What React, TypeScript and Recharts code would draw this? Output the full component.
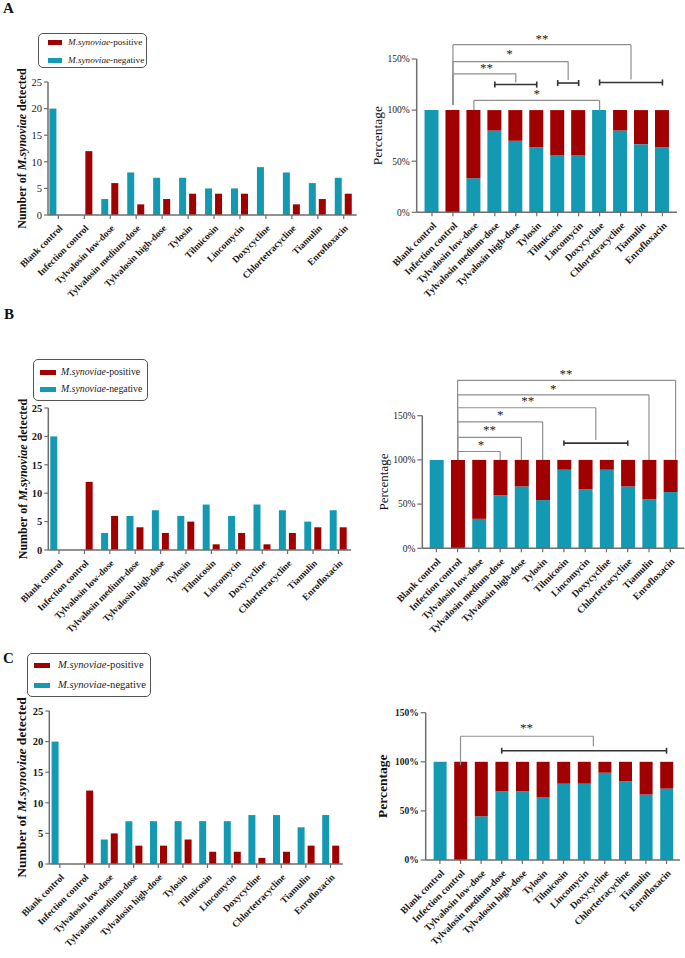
import React from 'react';
import { BarChart, Bar, XAxis, YAxis, ReferenceLine, ReferenceDot, Legend } from 'recharts';

const FONT = "'Liberation Serif', 'Times New Roman', Times, serif";
const TEAL = '#1499b3';
const RED = '#a00000';
const AXIS = '#6e6e6e';
const BRACKET = '#8f8f8f';
const CAP = '#333333';
const INK = '#1a1a1a';

// ---------- data ----------
const categories = [
  'Blank control',
  'Infection control',
  'Tylvalosin low-dose',
  'Tylvalosin medium-dose',
  'Tylvalosin high-dose',
  'Tylosin',
  'Tilmicosin',
  'Lincomycin',
  'Doxycycline',
  'Chlortetracycline',
  'Tiamulin',
  'Enrofloxacin',
];
const categoryIndex = categories.map((_, i) => i);

// number of birds (negative / positive) per group
const negA = [20, 0, 3, 8, 7, 7, 5, 5, 9, 8, 6, 7];
const posA = [0, 12, 6, 2, 3, 4, 4, 4, 0, 2, 3, 4];
const negB = [20, 0, 3, 6, 7, 6, 8, 6, 8, 7, 5, 7];
const posB = [0, 12, 6, 4, 3, 5, 1, 3, 1, 3, 4, 4];
const negC = [20, 0, 4, 7, 7, 7, 7, 7, 8, 8, 6, 8];
const posC = [0, 12, 5, 3, 3, 4, 2, 2, 1, 2, 3, 3];

const countTicks = [0, 5, 10, 15, 20, 25];
const pctTicks = [0, 50, 100, 150];
const posName = 'M.synoviae-positive';
const negName = 'M.synoviae-negative';

// significance annotations (x = category index, y = percentage scale)
const compA = [
  { x1: 1, x2: 9.5, y: 164, d1: 105, d2: 130, mark: '**', mx: 5.25, my: 172 },
  { x1: 1, x2: 6.5, y: 147.5, d1: 105, d2: 129.5, mark: '*', mx: 3.7, my: 157 },
  { x1: 1, x2: 4, y: 135.5, d1: 105, d2: 127, mark: '**', mx: 2.6, my: 143.5 },
  { x1: 2, x2: 8, y: 109.5, d1: 100, d2: 100, mark: '*', mx: 5, my: 118 },
];
const groupA = [
  { x1: 3, x2: 5, y: 125 },
  { x1: 6, x2: 7, y: 126.5 },
  { x1: 8, x2: 11, y: 127 },
];
const compB = [
  { x1: 1, x2: 11.25, y: 190, d1: 100, d2: 100, mark: '**', mx: 6.1, my: 200 },
  { x1: 1, x2: 10, y: 173.5, d1: 100, d2: 100, mark: '*', mx: 5.5, my: 183 },
  { x1: 1, x2: 7.5, y: 159, d1: 100, d2: 122.5, mark: '**', mx: 4.3, my: 168.5 },
  { x1: 1, x2: 5, y: 143, d1: 100, d2: 100, mark: '*', mx: 3, my: 153.5 },
  { x1: 1, x2: 4, y: 125.5, d1: 100, d2: 100, mark: '**', mx: 2.5, my: 136.5 },
  { x1: 1, x2: 3, y: 109.5, d1: 100, d2: 100, mark: '*', mx: 2.1, my: 119 },
];
const groupB = [{ x1: 6, x2: 9, y: 119 }];
const compC = [{ x1: 1, x2: 7.45, y: 126, d1: 96.5, d2: 116, mark: '**', mx: 4.2, my: 136 }];
const groupC = [{ x1: 3, x2: 11, y: 111.3 }];

// ---------- layout ----------
const countPanels = [
  {
    key: 'A', neg: negA, pos: posA,
    box: { left: 0, top: 0, width: 360, height: 310 },
    plot: { left: 48, top: 82, right: 356.7, bottom: 215 },
    domain: [-0.4, 11.5], tickBold: false, labelSize: 12, labelDist: 26,
    legend: { left: 38, top: 33, w: 109, h: 35, rowTop: 8, rowGap: 18, swX: 9, swW: 14, swH: 5, textX: 29, fs: 9.2 },
  },
  {
    key: 'B', neg: negB, pos: posB,
    box: { left: 0, top: 320, width: 360, height: 320 },
    plot: { left: 48.3, top: 88, right: 351.1, bottom: 230 },
    domain: [-0.42, 11.5], tickBold: true, labelSize: 12, labelDist: 25.3,
    legend: { left: 33, top: 39, w: 115, h: 42, rowTop: 12, rowGap: 17, swX: 6, swW: 16, swH: 5, textX: 27, fs: 9.8 },
  },
  {
    key: 'C', neg: negC, pos: posC,
    box: { left: 0, top: 640, width: 360, height: 318 },
    plot: { left: 49.3, top: 71, right: 342.8, bottom: 224 },
    domain: [-0.43, 11.5], tickBold: true, labelSize: 13.5, labelDist: 28.3,
    legend: { left: 27, top: 13, w: 124, h: 44, rowTop: 11, rowGap: 20, swX: 6, swW: 16, swH: 5, textX: 30, fs: 10.6 },
  },
];

const pctPanels = [
  {
    key: 'A', neg: negA, pos: posA, comps: compA, groups: groupA,
    box: { left: 360, top: 0, width: 325, height: 310 },
    plot: { left: 56.7, top: 59, right: 316.9, bottom: 212.3 },
    domain: [-0.73, 11.69], barSize: 14, tickBold: false, labelSize: 13.5, labelBold: false, labelDist: 39,
  },
  {
    key: 'B', neg: negB, pos: posB, comps: compB, groups: groupB,
    box: { left: 360, top: 320, width: 325, height: 320 },
    plot: { left: 62.3, top: 95.7, right: 324.3, bottom: 228.3 },
    domain: [-0.66, 11.66], barSize: 14, tickBold: false, labelSize: 13, labelBold: false, labelDist: 39,
  },
  {
    key: 'C', neg: negC, pos: posC, comps: compC, groups: groupC,
    box: { left: 360, top: 640, width: 325, height: 318 },
    plot: { left: 65.7, top: 72.7, right: 319.9, bottom: 220 },
    domain: [-0.69, 11.65], barSize: 13, tickBold: true, labelSize: 13.5, labelBold: true, labelDist: 43,
  },
];

const Y_W = 30;
const X_H = 30;

// ---------- pieces ----------
const xTickStyle = (fs: number) => ({
  angle: -45,
  textAnchor: 'end',
  fontSize: fs,
  fontWeight: 700,
  fill: INK,
  fontFamily: FONT,
});
const xTickFormat = (v: number) => categories[Math.round(v)] ?? '';

const countLabel = (fs: number, dist: number) => (props: any) => {
  const vb = props.viewBox || { x: 0, y: 0, width: 0, height: 0 };
  const cx = vb.x + vb.width - dist;
  const cy = vb.y + vb.height / 2;
  return (
    <text
      transform={`translate(${cx},${cy}) rotate(-90)`}
      textAnchor="middle"
      dominantBaseline="central"
      fontSize={fs}
      fontWeight={700}
      fill="#111"
      fontFamily={FONT}
    >
      <tspan>Number of  </tspan>
      <tspan fontStyle="italic">M.synoviae</tspan>
      <tspan> detected</tspan>
    </text>
  );
};

const pctLabel = (fs: number, bold: boolean, dist: number) => (props: any) => {
  const vb = props.viewBox || { x: 0, y: 0, width: 0, height: 0 };
  const cx = vb.x + vb.width - dist;
  const cy = vb.y + vb.height / 2;
  return (
    <text
      transform={`translate(${cx},${cy}) rotate(-90)`}
      textAnchor="middle"
      dominantBaseline="central"
      fontSize={fs}
      fontWeight={bold ? 700 : 400}
      fill="#111"
      fontFamily={FONT}
    >
      Percentage
    </text>
  );
};

const makeLegend = (lg: any) => (props: any) => {
  const payload = props.payload || [];
  const items = [posName, negName]
    .map((n) => payload.find((it: any) => it.value === n))
    .filter(Boolean);
  return (
    <div
      style={{
        position: 'relative',
        width: lg.w,
        height: lg.h,
        border: '1px solid #555',
        borderRadius: 5,
        background: '#fff',
        boxSizing: 'border-box',
        fontFamily: FONT,
      }}
    >
      {items.map((it: any, k: number) => {
        const [sp, suffix] = String(it.value).split('-');
        return (
          <div
            key={k}
            style={{ position: 'absolute', left: 0, top: lg.rowTop + k * lg.rowGap - 7, height: 14, width: '100%' }}
          >
            <span
              style={{
                position: 'absolute',
                left: lg.swX,
                top: (14 - lg.swH) / 2,
                width: lg.swW,
                height: lg.swH,
                background: it.color,
              }}
            />
            <span
              style={{
                position: 'absolute',
                left: lg.textX,
                top: 0,
                lineHeight: '14px',
                fontSize: lg.fs,
                whiteSpace: 'nowrap',
                color: '#222',
              }}
            >
              <i>{sp}</i>-{suffix}
            </span>
          </div>
        );
      })}
    </div>
  );
};

const starLabel = (mark: string) => (props: any) => {
  const vb = props.viewBox || { x: 0, y: 0 };
  return (
    <text x={vb.x} y={vb.y + 6} textAnchor="middle" fontSize={13} fill="#222" fontFamily={FONT}>
      {mark}
    </text>
  );
};

const annotations = (comps: any[], groups: any[]) => {
  const out: any[] = [];
  comps.forEach((c, k) => {
    out.push(
      <ReferenceLine key={`c${k}l`} segment={[{ x: c.x1, y: c.d1 }, { x: c.x1, y: c.y }]} stroke={BRACKET} strokeWidth={1.2} ifOverflow="visible" />,
      <ReferenceLine key={`c${k}h`} segment={[{ x: c.x1, y: c.y }, { x: c.x2, y: c.y }]} stroke={BRACKET} strokeWidth={1.2} ifOverflow="visible" />,
      <ReferenceLine key={`c${k}r`} segment={[{ x: c.x2, y: c.y }, { x: c.x2, y: c.d2 }]} stroke={BRACKET} strokeWidth={1.2} ifOverflow="visible" />,
      <ReferenceDot key={`c${k}m`} x={c.mx} y={c.my} r={0} fill="none" stroke="none" ifOverflow="visible" label={starLabel(c.mark)} />,
    );
  });
  groups.forEach((g, k) => {
    out.push(
      <ReferenceLine key={`g${k}h`} segment={[{ x: g.x1, y: g.y }, { x: g.x2, y: g.y }]} stroke={CAP} strokeWidth={1.6} ifOverflow="visible" />,
      <ReferenceLine key={`g${k}a`} segment={[{ x: g.x1, y: g.y - 3 }, { x: g.x1, y: g.y + 3 }]} stroke={CAP} strokeWidth={1.6} ifOverflow="visible" />,
      <ReferenceLine key={`g${k}b`} segment={[{ x: g.x2, y: g.y - 3 }, { x: g.x2, y: g.y + 3 }]} stroke={CAP} strokeWidth={1.6} ifOverflow="visible" />,
    );
  });
  return out;
};

function CountChart({ p }: { p: any }) {
  const data = categories.map((name, i) => ({ i, name, neg: p.neg[i], pos: p.pos[i] }));
  const margin = {
    left: p.plot.left - Y_W,
    top: p.plot.top,
    right: p.box.width - p.plot.right,
    bottom: p.box.height - p.plot.bottom - X_H,
  };
  const lg = p.legend;
  return (
    <div style={{ position: 'absolute', left: p.box.left, top: p.box.top }}>
      <BarChart width={p.box.width} height={p.box.height} data={data} margin={margin} barGap={3}>
        <XAxis
          type="number"
          dataKey="i"
          domain={p.domain}
          ticks={categoryIndex}
          interval={0}
          height={X_H}
          axisLine={{ stroke: AXIS, strokeWidth: 1.5 }}
          tickLine={{ stroke: AXIS, strokeWidth: 1.2 }}
          tickSize={4}
          tickMargin={5}
          tickFormatter={xTickFormat}
          tick={xTickStyle(9.5)}
        />
        <YAxis
          type="number"
          domain={[0, 25]}
          ticks={countTicks}
          interval={0}
          width={Y_W}
          axisLine={{ stroke: AXIS, strokeWidth: 1.5 }}
          tickLine={{ stroke: AXIS, strokeWidth: 1.2 }}
          tickSize={4}
          tickMargin={2}
          tick={{ fontSize: 10.5, fill: INK, fontWeight: p.tickBold ? 700 : 400, fontFamily: FONT }}
          label={countLabel(p.labelSize, p.labelDist)}
        />
        <Legend
          layout="vertical"
          align="center"
          verticalAlign="middle"
          wrapperStyle={{ left: lg.left, top: lg.top, width: lg.w, height: lg.h }}
          content={makeLegend(lg)}
        />
        <Bar dataKey="neg" name={negName} fill={TEAL} barSize={7} isAnimationActive={false} />
        <Bar dataKey="pos" name={posName} fill={RED} barSize={7} isAnimationActive={false} />
      </BarChart>
    </div>
  );
}

function PctChart({ p }: { p: any }) {
  const data = categories.map((name, i) => {
    const total = p.neg[i] + p.pos[i];
    const negPct = (p.neg[i] / total) * 100;
    return { i, name, neg: negPct, pos: 100 - negPct };
  });
  const YW = 40;
  const margin = {
    left: p.plot.left - YW,
    top: p.plot.top,
    right: p.box.width - p.plot.right,
    bottom: p.box.height - p.plot.bottom - X_H,
  };
  return (
    <div style={{ position: 'absolute', left: p.box.left, top: p.box.top }}>
      <BarChart width={p.box.width} height={p.box.height} data={data} margin={margin}>
        <XAxis
          type="number"
          dataKey="i"
          domain={p.domain}
          ticks={categoryIndex}
          interval={0}
          height={X_H}
          axisLine={{ stroke: AXIS, strokeWidth: 1.5 }}
          tickLine={{ stroke: AXIS, strokeWidth: 1.2 }}
          tickSize={4}
          tickMargin={5}
          tickFormatter={xTickFormat}
          tick={xTickStyle(9.8)}
        />
        <YAxis
          type="number"
          domain={[0, 150]}
          ticks={pctTicks}
          interval={0}
          width={YW}
          axisLine={{ stroke: AXIS, strokeWidth: 1.5 }}
          tickLine={{ stroke: AXIS, strokeWidth: 1.2 }}
          tickSize={5}
          tickMargin={2}
          tickFormatter={(v: number) => `${v}%`}
          tick={{ fontSize: 9.5, fill: INK, fontWeight: p.tickBold ? 700 : 400, fontFamily: FONT }}
          label={pctLabel(p.labelSize, p.labelBold, p.labelDist)}
        />
        <Bar dataKey="neg" stackId="s" name={negName} fill={TEAL} barSize={p.barSize} isAnimationActive={false} />
        <Bar dataKey="pos" stackId="s" name={posName} fill={RED} barSize={p.barSize} isAnimationActive={false} />
        {annotations(p.comps, p.groups)}
      </BarChart>
    </div>
  );
}

const panelLetters = [
  { text: 'A', left: 3, top: 0.5 },
  { text: 'B', left: 4, top: 306.5 },
  { text: 'C', left: 3, top: 650.5 },
];

export default function App() {
  return (
    <div
      style={{
        position: 'absolute',
        left: 0,
        top: 0,
        width: 685,
        height: 958,
        background: '#fff',
        overflow: 'hidden',
        fontFamily: FONT,
      }}
    >
      {countPanels.map((p) => (
        <CountChart key={`count${p.key}`} p={p} />
      ))}
      {pctPanels.map((p) => (
        <PctChart key={`pct${p.key}`} p={p} />
      ))}
      {panelLetters.map((l) => (
        <div
          key={l.text}
          style={{
            position: 'absolute',
            left: l.left,
            top: l.top,
            fontSize: 15,
            lineHeight: '15px',
            fontWeight: 700,
            color: '#111',
          }}
        >
          {l.text}
        </div>
      ))}
    </div>
  );
}
